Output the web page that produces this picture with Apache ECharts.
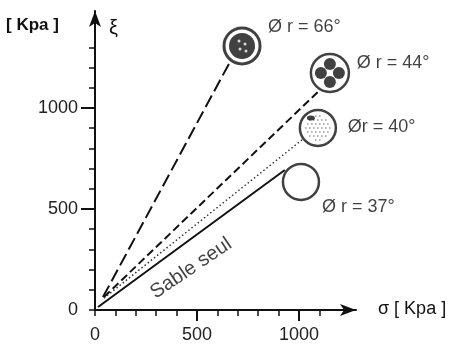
<!DOCTYPE html>
<html>
<head>
<meta charset="utf-8">
<script src="https://cdn.jsdelivr.net/npm/echarts@6/dist/echarts.min.js"></script>
<style>html,body{margin:0;padding:0;background:#fff}#c{width:461px;height:345px}</style>
</head>
<body>
<div id="c"></div>
<script>
// ---- data ----
const xMinorTicks = [0,100,200,300,400,500,600,700,800,900,1000,1100];
const xMajorTicks = [0,500,1000];
const yMinorTicks = [0,100,200,300,400,500,600,700,800,900,1000,1100,1200,1300];
const yMajorTicks = [0,500,1000];
const line66 = [[39,64],[662,1228]];
const line44 = [[44,64],[1103,1089]];
const line40 = [[44,59],[1015,842]];
const line37 = [[15,15],[931,693]];
const circle66 = [721,1307];
const circle44 = [1152,1173];
const circle40 = [1093,901];
const circle37 = [1010,634];
const annotNames = ['Ø r = 66°','Ø r = 44°','Ør = 40°','Ø r = 37°'];
const annotPos = [[848,1401],[1284,1223],[1240,906],[1113,510]];
const curveLabel = 'Sable seul';
const curveLabelPos = [471,206];

const FONT = '"Liberation Sans", Arial, sans-serif';
const INK = '#111';

const chart = echarts.init(document.getElementById('c'));
const circleBase = {type:'scatter', symbol:'circle', symbolSize:36, z:5, silent:true, clip:false};
const dot = (pt, size, off, color, z) => ({type:'scatter', data:[pt], symbol:'circle', symbolSize:size, symbolOffset:off, itemStyle:{color:color}, z:z, silent:true, clip:false});
const plain = v => String(v);

// stipple offsets for the 40° circle fill (decorative texture)
const stipple = [];
for (let dy = -12; dy <= 12; dy += 4) {
  for (let dx = -12; dx <= 12; dx += 4) {
    const sx = dx + ((dy/4) % 2 ? 2 : 0);
    if (sx*sx + dy*dy < 170) stipple.push([sx, dy]);
  }
}

chart.setOption({
  animation:false,
  grid:{left:95, top:11, width:261, bottom:35},
  xAxis:[{
    type:'value', min:0, max:1280,
    axisLine:{show:true, symbol:['none','arrow'], symbolSize:[9,16], lineStyle:{color:INK, width:2}},
    axisTick:{show:true, customValues:xMinorTicks, length:6, lineStyle:{color:INK, width:1.5}},
    axisLabel:{customValues:xMajorTicks, formatter:plain, margin:16, color:'#222', fontSize:18, fontFamily:FONT},
    splitLine:{show:false}
  },{
    type:'value', min:0, max:1280, position:'bottom',
    axisLine:{show:false},
    axisTick:{show:true, customValues:xMajorTicks.filter(v=>v>0), length:11, lineStyle:{color:INK, width:2}},
    axisLabel:{show:false}, splitLine:{show:false}
  }],
  yAxis:[{
    type:'value', min:0, max:1480,
    axisLine:{show:true, symbol:['none','arrow'], symbolSize:[9,16], lineStyle:{color:INK, width:2}},
    axisTick:{show:true, customValues:yMinorTicks, length:6, lineStyle:{color:INK, width:1.5}},
    axisLabel:{customValues:yMajorTicks, formatter:plain, margin:17, color:'#222', fontSize:18, fontFamily:FONT},
    splitLine:{show:false}
  },{
    type:'value', min:0, max:1480, position:'left',
    axisLine:{show:false},
    axisTick:{show:true, customValues:yMajorTicks.filter(v=>v>0), length:14, lineStyle:{color:INK, width:2}},
    axisLabel:{show:false}, splitLine:{show:false}
  }],
  series:[
    {type:'line', data:line66, symbol:'none', lineStyle:{color:INK, width:2, type:[13,5]}, z:2},
    {type:'line', data:line44, symbol:'none', lineStyle:{color:INK, width:2, type:[8,4]}, z:2},
    {type:'line', data:line40, symbol:'none', lineStyle:{color:'#333', width:1.5, type:[1.5,2.5]}, z:2},
    {type:'line', data:line37, symbol:'none', lineStyle:{color:INK, width:2}, z:2},
    // circles
    Object.assign({}, circleBase, {data:[circle66], itemStyle:{color:'#fff', borderColor:INK, borderWidth:3}}),
    dot(circle66, 26, [0,0], INK, 6),
    dot(circle66, 3, [-3,-5], '#fff', 7),
    dot(circle66, 3, [3,-2], '#fff', 7),
    dot(circle66, 3, [-2,3], '#fff', 7),
    dot(circle66, 3, [4,5], '#fff', 7),
    Object.assign({}, circleBase, {data:[circle44], symbolSize:38, itemStyle:{color:'#fff', borderColor:INK, borderWidth:2.5}}),
    dot(circle44, 12, [0,-9], INK, 6),
    dot(circle44, 12, [0,9], INK, 6),
    dot(circle44, 12, [-9,0], INK, 6),
    dot(circle44, 12, [9,0], INK, 6),
    Object.assign({}, circleBase, {data:[circle40], itemStyle:{color:'#fff', borderColor:INK, borderWidth:2.5}}),
    ...stipple.map(o => dot(circle40, 1.6, o, '#555', 6)),
    dot(circle40, [8,5], [-7,-10], INK, 7),
    Object.assign({}, circleBase, {data:[circle37], itemStyle:{color:'#fff', borderColor:INK, borderWidth:2.5}}),
    // annotations
    {type:'scatter', symbolSize:0, clip:false, silent:true, z:8,
     data: annotNames.map((n,i)=>({name:n, value:annotPos[i]})),
     label:{show:true, position:'right', distance:0, formatter:'{b}', color:INK, fontSize:18, fontFamily:FONT}},
    {type:'scatter', symbolSize:0, clip:false, silent:true, z:8,
     data:[{name:curveLabel, value:curveLabelPos}],
     label:{show:true, position:'inside', rotate:34, formatter:'{b}', color:INK, fontSize:20, fontFamily:FONT}}
  ],
  graphic:[
    {type:'text', left:6, top:17, style:{text:'[ Kpa ]', font:'bold 17px '+FONT, fill:INK}},
    {type:'text', left:109, top:18, style:{text:'ξ', font:'20px '+FONT, fill:INK}},
    {type:'text', left:378, top:300, style:{text:'σ [ Kpa ]', font:'18px '+FONT, fill:INK}}
  ]
});
</script>
</body>
</html>
